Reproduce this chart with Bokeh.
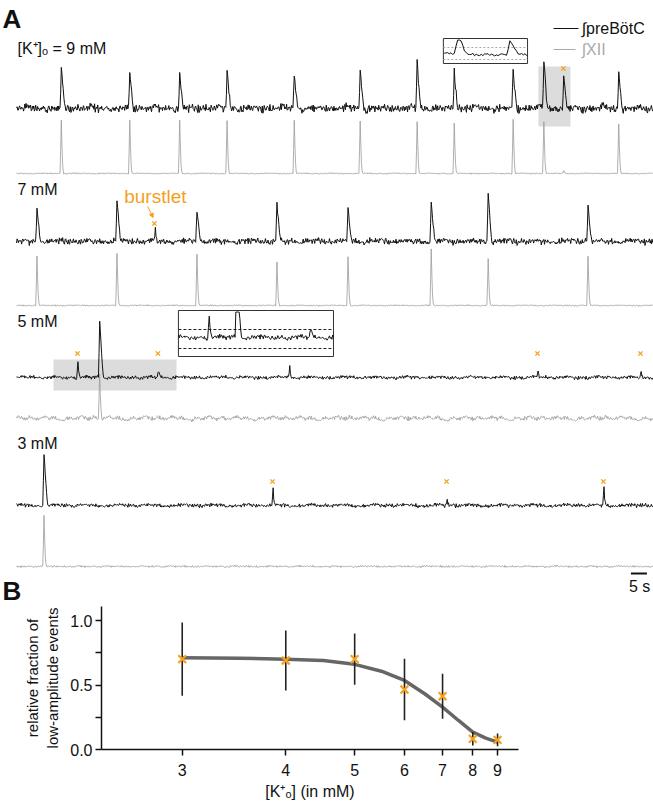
import numpy as np
from bokeh.plotting import figure
from bokeh.layouts import column
from bokeh.models import Range1d, FixedTicker, CustomJSTickFormatter, PrintfTickFormatter, Arrow, NormalHead
from bokeh.core.properties import value
from bokeh.embed import file_html
from bokeh.resources import INLINE

FONT = "Liberation Sans"
ORANGE = "#F5A01E"
GRAY = "#9a9a9a"

# ---------------- Panel A data (time in s, amplitudes in a.u.) ----------------
DT = 0.2
T_END = 199.0

K9_T   = [13.75, 35.3, 50.9, 65.6, 86.6, 107.2, 125.0, 136.6, 155.0, 164.7, 170.9, 188.1]
K9_PRE = [0.78, 0.72, 0.70, 0.76, 0.68, 0.78, 0.92, 0.74, 0.74, 0.96, 0.62, 0.70]
K9_XII = [1.06, 1.06, 1.06, 1.06, 1.06, 1.06, 1.04, 1.00, 1.08, 1.04, 0.06, 0.98]
K9_BURSTLETS = [170.9]

K7_T   = [6.25, 31.25, 43.1, 56.25, 81.25, 103.4, 129.4, 147.2, 178.4]
K7_PRE = [0.68, 0.82, 0.26, 0.64, 0.74, 0.68, 0.78, 1.00, 0.72]
K7_XII = [0.98, 1.04, 0.00, 1.02, 0.86, 0.98, 1.12, 0.94, 0.98]
K7_BURSTLETS = [43.1]

K5_T   = [19.06, 25.9, 44.2, 85.3, 162.8, 195.0]
K5_PRE = [0.34, 1.14, 0.14, 0.20, 0.12, 0.14]
K5_XII = [0.00, 0.90, 0.00, 0.00, 0.00, 0.00]
K5_BURSTLETS = [19.06, 44.2, 85.3, 162.8, 195.0]

K3_T   = [8.44, 80.0, 134.4, 183.4]
K3_PRE = [1.04, 0.32, 0.14, 0.36]
K3_XII = [1.00, 0.00, 0.00, 0.00]
K3_BURSTLETS = [80.0, 134.4, 183.4]

ROW_LABELS = ["[K\u207a]\u2092 = 9 mM", "7 mM", "5 mM", "3 mM"]

# burst waveform templates (sampled every DT)
BLACK_SHAPE = [0.45, 1.0, 0.82, 0.62, 0.42, 0.24, 0.10]
SMALL_SHAPE = [0.45, 1.0, 0.45, 0.15]
GRAY_SHAPE = [0.45, 1.0, 0.55, 0.20, 0.05]

# fixed baseline texture
NOISE = [0.12, -0.58, 0.83, -0.21, 0.47, -0.92, 0.05, 0.66, -0.37, 0.29,
         -0.74, 0.91, -0.08, 0.54, -0.63, 0.18, -0.45, 0.77, -0.99, 0.33,
         0.02, -0.27, 0.69, -0.51, 0.86, -0.14, 0.41, -0.82, 0.23, -0.66,
         0.58, -0.03, 0.95, -0.39, 0.14, -0.71, 0.49, -0.19, 0.73, -0.88,
         0.31, 0.07, -0.56, 0.62, -0.24, 0.84, -0.47, 0.19, -0.93, 0.44,
         -0.11, 0.68, -0.34, 0.09, -0.77, 0.52, -0.61, 0.27, 0.89, -0.16,
         0.36, -0.69, 0.01, 0.79, -0.43, 0.57, -0.86, 0.21, -0.29, 0.64,
         -0.06, 0.98, -0.53, 0.38, -0.79, 0.11, 0.46, -0.22, 0.71, -0.95,
         0.26, -0.41, 0.61, -0.09, 0.81, -0.64, 0.16, -0.33, 0.53, -0.87,
         0.42, 0.04, -0.59, 0.76, -0.18, 0.35, -0.72, 0.93, -0.26, 0.08]

# ---------------- Panel B data ----------------
K_VALUES = [3, 4, 5, 6, 7, 8, 9]
FRACTION = [0.700, 0.690, 0.700, 0.465, 0.413, 0.083, 0.075]
SD       = [0.284, 0.233, 0.199, 0.239, 0.175, 0.052, 0.050]
FIT_K = [3.0, 3.5, 4.0, 4.5, 5.0, 5.5, 6.0, 6.5, 7.0, 7.5, 8.0, 8.5, 9.0]
FIT_Y = [0.711, 0.707, 0.700, 0.690, 0.660, 0.607, 0.535, 0.432, 0.328, 0.225, 0.134, 0.088, 0.057]

# ---------------- build traces ----------------
t = np.arange(0.0, T_END, DT)
n = len(t)
idx = np.arange(n)
NZ = np.array(NOISE)


def texture(a, b, slow_w):
    fast = 0.65 * NZ[(idx * 37 + a) % 100] + 0.35 * NZ[(idx * 53 + b) % 97]
    slow = np.convolve(NZ[(idx * 29 + b) % 100], np.ones(12) / 12.0, mode="same") * 3.0
    return fast + slow_w * slow


def bursts(times, amps, shape, small=None):
    y = np.zeros(n)
    for tt, aa in zip(times, amps):
        if aa <= 0:
            continue
        sh = shape if (small is None or aa >= 0.45) else small
        k = int(round(tt / DT))
        for j, s in enumerate(sh):
            if 0 <= k + j < n:
                y[k + j] += aa * s
    return y


GAIN = 50.0  # px per a.u.
rows = [
    dict(T=K9_T, PRE=K9_PRE, XII=K9_XII, BL=K9_BURSTLETS, bb=108, gb=173, bn=5.0, gn=0.8, gs=0.2, mk=40, lab=48),
    dict(T=K7_T, PRE=K7_PRE, XII=K7_XII, BL=K7_BURSTLETS, bb=241, gb=305, bn=3.8, gn=0.8, gs=0.2, mk=18, lab=189),
    dict(T=K5_T, PRE=K5_PRE, XII=K5_XII, BL=K5_BURSTLETS, bb=377, gb=418, bn=2.2, gn=2.4, gs=1.0, mk=24, lab=321),
    dict(T=K3_T, PRE=K3_PRE, XII=K3_XII, BL=K3_BURSTLETS, bb=505, gb=566, bn=2.4, gn=1.2, gs=0.4, mk=24, lab=443),
]

HA = 606
pA = figure(width=653, height=HA, x_range=Range1d(-5.0, 199.06), y_range=Range1d(HA, 0),
            min_border=0, toolbar_location=None, output_backend="svg")
pA.axis.visible = False
pA.grid.visible = False
pA.outline_line_color = None
pA.frame_align = False

# shaded regions
pA.quad(left=[163.1, 11.56], right=[173.1, 50.0], top=[66, 359], bottom=[126, 390],
        fill_color="#dcdcdc", line_color=None)

black_px = []
for r_i, r in enumerate(rows):
    sig_b = bursts(r["T"], r["PRE"], BLACK_SHAPE, SMALL_SHAPE) * GAIN + texture(3 + r_i * 11, 7 + r_i * 5, 0.35) * r["bn"]
    sig_g = bursts(r["T"], r["XII"], GRAY_SHAPE) * GAIN + texture(41 + r_i * 13, 19 + r_i * 7, r["gs"]) * r["gn"]
    black_px.append(sig_b)
    pA.line(t, r["bb"] - sig_b, line_color="#111111", line_width=1.0)
    pA.line(t, r["gb"] - sig_g, line_color=GRAY, line_width=0.8)
    pA.scatter(r["BL"], [r["bb"] - r["mk"]] * len(r["BL"]), marker="x", size=6,
               line_color=ORANGE, line_width=1.4)
    pA.text(x=[0.3], y=[r["lab"]], text=[ROW_LABELS[r_i]], text_font=value(FONT),
            text_font_size="16px", text_baseline="middle", text_align="left", text_color="#111")

# insets (magnified views of the shaded segments)
def inset(sig, t0, t1, bx0, bx1, by0, by1, base, vgain, ylines, dash, dcol):
    m = (t >= t0) & (t <= t1)
    mag = (bx1 - bx0) / (t1 - t0)
    xi = bx0 + (t[m] - t0) * mag
    yi = np.maximum(base - sig[m] * vgain, by0 + 1.5)
    pA.quad(left=[bx0], right=[bx1], top=[by0], bottom=[by1], fill_color="white",
            line_color="#333333", line_width=1)
    for yl in ylines:
        pA.line([bx0, bx1], [yl, yl], line_color=dcol, line_dash=dash, line_width=1)
    pA.line(xi, yi, line_color="#111111", line_width=1.0)

inset(black_px[0], 163.1, 173.1, 133.4, 159.7, 38, 63, 54, 0.42, [47, 59], "2 2", "#aaaaaa")
inset(black_px[2], 11.56, 50.0, 50.6, 99.06, 310, 356, 337, 1.35, [329, 348], "3 2", "#222222")

# burstlet annotation
pA.text(x=[43.4], y=[196], text=["burstlet"], text_font=value(FONT), text_font_size="19px",
        text_color=ORANGE, text_align="center", text_baseline="middle")
pA.add_layout(Arrow(x_start=41.0, y_start=206, x_end=42.7, y_end=217, line_color=ORANGE, line_width=1,
                    end=NormalHead(size=4, fill_color=ORANGE, line_color=ORANGE)))

# legend
pA.segment(x0=[167.8, 167.8], x1=[175.6, 174.7], y0=[28, 49], y1=[28, 49],
           line_color=["#111111", "#aaaaaa"], line_width=1.2)
pA.text(x=[176.6, 176.6], y=[28, 49], text=["\u222bpreB\u00f6tC", "\u222bXII"], text_font=value(FONT),
        text_font_size="16px", text_color=["#111111", "#aaaaaa"], text_baseline="middle")

# scale bar (5 s)
pA.segment(x0=[192.0], x1=[197.0], y0=[573], y1=[573], line_color="#111111", line_width=2)
pA.text(x=[194.7], y=[586], text=["5 s"], text_font=value(FONT), text_font_size="16px",
        text_align="center", text_baseline="middle", text_color="#111")

# panel letters
pA.text(x=[-4.4, -4.4], y=[18, 590], text=["A", "B"], text_font=value(FONT), text_font_size="26px",
        text_font_style="bold", text_baseline="middle", text_color="#111")

# ---------------- Panel B ----------------
P = 0.6
def kx(k):
    return -np.asarray(k, dtype=float) ** (-P)

XR = (-0.5812, -0.2510)
YTOP = (749 - HA) / 129.0
pB = figure(width=653, height=804 - HA, x_range=Range1d(*XR), y_range=Range1d(0, YTOP),
            min_border_left=101, min_border_right=135, min_border_top=0, min_border_bottom=55,
            toolbar_location=None, output_backend="svg")
pB.grid.visible = False
pB.outline_line_color = None
pB.frame_align = False

pB.line(kx(FIT_K), FIT_Y, line_color="#666666", line_width=3.5)
fr = np.array(FRACTION)
sd = np.array(SD)
pB.segment(x0=kx(K_VALUES), x1=kx(K_VALUES), y0=fr - sd, y1=fr + sd, line_color="#222222", line_width=1.6)
pB.scatter(kx(K_VALUES), FRACTION, marker="x", size=11, line_color=ORANGE, line_width=2.2)

xa = pB.xaxis[0]
xa.ticker = FixedTicker(ticks=list(kx(K_VALUES)))
xa.formatter = CustomJSTickFormatter(code="return Math.round(Math.pow(-tick, -1/0.6)).toString();")
xa.axis_label = "[K\u207a\u2092] (in mM)"
ya = pB.yaxis[0]
ya.ticker = FixedTicker(ticks=[0.0, 0.5, 1.0], minor_ticks=[0.25, 0.75])
ya.formatter = PrintfTickFormatter(format="%.1f")
ya.axis_label = "relative fraction of\nlow-amplitude events"

for ax in (xa, ya):
    ax.axis_line_width = 1.5
    ax.axis_line_color = "#111111"
    ax.major_tick_line_color = "#111111"
    ax.major_tick_line_width = 1.5
    ax.major_tick_out = 6
    ax.major_tick_in = 0
    ax.major_label_text_font = FONT
    ax.major_label_text_font_size = "16px"
    ax.major_label_text_color = "#111111"
    ax.axis_label_text_font = FONT
    ax.axis_label_text_font_size = "16px"
    ax.axis_label_text_font_style = "normal"
    ax.axis_label_text_color = "#111111"
ya.axis_label_text_font_size = "15px"
xa.minor_tick_line_color = None
ya.minor_tick_line_color = "#111111"
ya.minor_tick_line_width = 1.5
ya.minor_tick_out = 6
ya.minor_tick_in = 0
xa.major_label_standoff = 8
xa.axis_label_standoff = 4
ya.major_label_standoff = 3
ya.axis_label_standoff = 6

layout = column(pA, pB)
open("out.html", "w").write(file_html(layout, INLINE))
